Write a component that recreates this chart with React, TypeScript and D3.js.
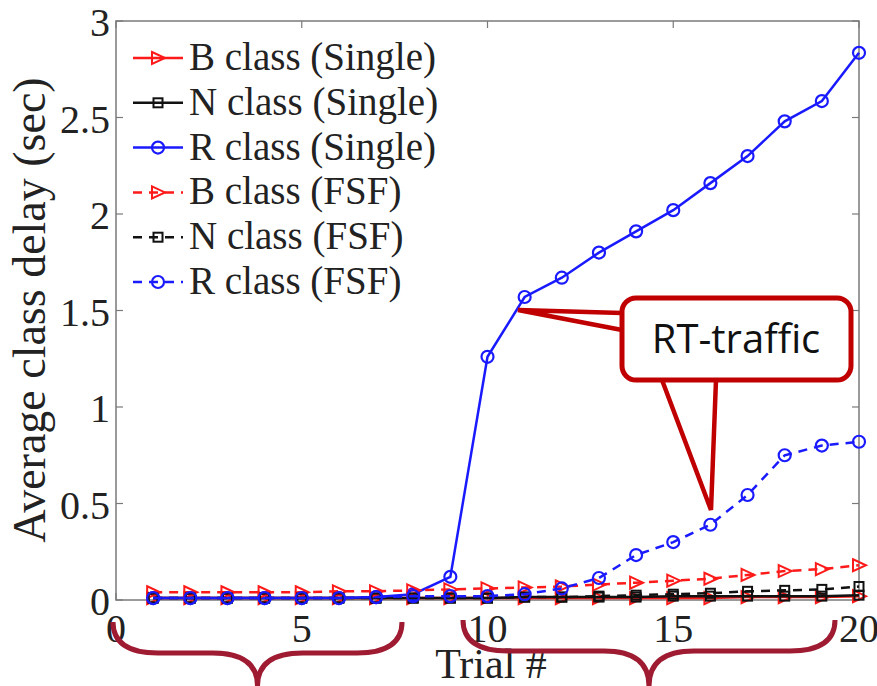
import React from "react";
import * as d3 from "d3";

const trials = [1, 2, 3, 4, 5, 6, 7, 8, 9, 10, 11, 12, 13, 14, 15, 16, 17, 18, 19, 20];
const bSingle = [0.01, 0.01, 0.01, 0.01, 0.01, 0.01, 0.01, 0.01, 0.01, 0.01, 0.01, 0.01, 0.01, 0.01, 0.01, 0.01, 0.015, 0.015, 0.015, 0.02];
const nSingle = [0.01, 0.01, 0.01, 0.01, 0.01, 0.01, 0.01, 0.01, 0.01, 0.01, 0.015, 0.015, 0.015, 0.015, 0.02, 0.02, 0.02, 0.02, 0.02, 0.025];
const rSingle = [0.01, 0.01, 0.01, 0.01, 0.01, 0.01, 0.015, 0.03, 0.12, 1.26, 1.57, 1.67, 1.8, 1.91, 2.02, 2.16, 2.3, 2.48, 2.585, 2.835];
const bFSF = [0.04, 0.04, 0.04, 0.04, 0.04, 0.045, 0.045, 0.05, 0.055, 0.06, 0.065, 0.07, 0.08, 0.09, 0.1, 0.11, 0.13, 0.15, 0.16, 0.18];
const nFSF = [0.01, 0.01, 0.01, 0.01, 0.01, 0.01, 0.01, 0.01, 0.01, 0.01, 0.015, 0.015, 0.02, 0.025, 0.03, 0.035, 0.045, 0.05, 0.055, 0.07];
const rFSF = [0.01, 0.01, 0.01, 0.01, 0.01, 0.01, 0.015, 0.02, 0.02, 0.02, 0.03, 0.06, 0.114, 0.233, 0.3, 0.39, 0.544, 0.75, 0.8, 0.82];

const xTicks = [0, 5, 10, 15, 20];
const yTicks = [0, 0.5, 1, 1.5, 2, 2.5, 3];
const xLabel = "Trial #";
const yLabel = "Average class delay (sec)";
const calloutText = "RT-traffic";

type Series = { name: string; values: number[]; color: string; marker: "tri" | "sq" | "circ"; dashed: boolean };
const series: Series[] = [
  { name: "B class (Single)", values: bSingle, color: "#ff1a1a", marker: "tri", dashed: false },
  { name: "N class (Single)", values: nSingle, color: "#111111", marker: "sq", dashed: false },
  { name: "R class (Single)", values: rSingle, color: "#1a1aff", marker: "circ", dashed: false },
  { name: "B class (FSF)", values: bFSF, color: "#ff1a1a", marker: "tri", dashed: true },
  { name: "N class (FSF)", values: nFSF, color: "#111111", marker: "sq", dashed: true },
  { name: "R class (FSF)", values: rFSF, color: "#1a1aff", marker: "circ", dashed: true },
];

const W = 877, H = 686;
const L = 116, R = 859, T = 21, B = 600;

function Marker({ type, x, y, color }: { type: string; x: number; y: number; color: string }) {
  const s = 6;
  if (type === "tri")
    return <path d={`M${x - s},${y - s}L${x + s + 1},${y}L${x - s},${y + s}Z`} fill="none" stroke={color} strokeWidth={2} />;
  if (type === "sq")
    return <rect x={x - 4.5} y={y - 4.5} width={9} height={9} fill="none" stroke={color} strokeWidth={2} />;
  return <circle cx={x} cy={y} r={6} fill="none" stroke={color} strokeWidth={2.2} />;
}

const serifStyle: React.CSSProperties = { fontFamily: '"Liberation Serif", "DejaVu Serif", "Times New Roman", serif' };

export default function App() {
  const x = d3.scaleLinear().domain([0, 20]).range([L, R]);
  const y = d3.scaleLinear().domain([0, 3]).range([B, T]);
  const line = d3.line<number>().x((_, i) => x(trials[i])).y((d) => y(d));
  const brace = "#9e1b32";
  const callout = "#c00000";

  const braceD = (x0: number, x1: number, yTop: number, yMid: number, yTip: number) => {
    const xm = (x0 + x1) / 2;
    const r = 30;
    return `M${x0},${yTop} Q${x0},${yMid} ${x0 + r * 1.5},${yMid} L${xm - r * 1.5},${yMid} Q${xm},${yMid} ${xm},${yTip} Q${xm},${yMid} ${xm + r * 1.5},${yMid} L${x1 - r * 1.5},${yMid} Q${x1},${yMid} ${x1},${yTop}`;
  };

  const legendY0 = 58, legendDy = 44.8;

  return (
    <svg width={W} height={H} style={{ position: "absolute", left: 0, top: 0, background: "#fff" }}>
      <rect x={0} y={0} width={W} height={H} fill="#fff" />
      <rect x={L} y={T} width={R - L} height={B - T} fill="none" stroke="#7a7a7a" strokeWidth={1.5} />
      {xTicks.map((t) => (
        <g key={"xt" + t}>
          <line x1={x(t)} x2={x(t)} y1={B} y2={B - 7} stroke="#7a7a7a" strokeWidth={1.2} />
          <line x1={x(t)} x2={x(t)} y1={T} y2={T + 7} stroke="#7a7a7a" strokeWidth={1.2} />
          <text x={x(t)} y={642} textAnchor="middle" style={serifStyle} fontSize={40} fill="#222">{t}</text>
        </g>
      ))}
      {yTicks.map((t) => (
        <g key={"yt" + t}>
          <line x1={L} x2={L + 7} y1={y(t)} y2={y(t)} stroke="#7a7a7a" strokeWidth={1.2} />
          <line x1={R} x2={R - 7} y1={y(t)} y2={y(t)} stroke="#7a7a7a" strokeWidth={1.2} />
          <text x={110} y={y(t) + 15} textAnchor="end" style={serifStyle} fontSize={40} fill="#222">{t}</text>
        </g>
      ))}
      <text x={491} y={678} textAnchor="middle" style={serifStyle} fontSize={42} fill="#222">{xLabel}</text>
      <text transform={`translate(45,${310}) rotate(-90)`} textAnchor="middle" style={serifStyle} fontSize={46} fill="#222">{yLabel}</text>

      {series.map((s, si) => (
        <g key={"s" + si}>
          <path d={line(s.values) || ""} fill="none" stroke={s.color} strokeWidth={2.5} strokeDasharray={s.dashed ? "9,7" : undefined} />
          {s.values.map((v, i) => (
            <Marker key={i} type={s.marker} x={x(trials[i])} y={y(v)} color={s.color} />
          ))}
        </g>
      ))}

      {series.map((s, si) => {
        const ly = legendY0 + si * legendDy;
        return (
          <g key={"l" + si}>
            <line x1={133} x2={183} y1={ly} y2={ly} stroke={s.color} strokeWidth={2.5} strokeDasharray={s.dashed ? "9,7" : undefined} />
            <Marker type={s.marker} x={158} y={ly} color={s.color} />
            <text x={189} y={ly + 12} style={serifStyle} fontSize={39} fill="#222">{s.name}</text>
          </g>
        );
      })}

      <path
        d={`M622,313 L518,310 L622,330 M662,380 L711,510 L716,380`}
        fill="#fff"
        stroke={callout}
        strokeWidth={4.5}
        strokeLinejoin="miter"
      />
      <rect x={622} y={298} width={229} height={82} rx={14} ry={14} fill="#fff" stroke={callout} strokeWidth={5} />
      <text x={736} y={353} textAnchor="middle" style={{ fontFamily: '"Open Sans", "Liberation Sans", sans-serif' }} fontSize={40} fill="#111">{calloutText}</text>

      <path d={braceD(113, 402, 622, 653, 686)} fill="none" stroke={brace} strokeWidth={5} />
      <path d={braceD(463, 835, 620, 651, 686)} fill="none" stroke={brace} strokeWidth={5} />
    </svg>
  );
}
